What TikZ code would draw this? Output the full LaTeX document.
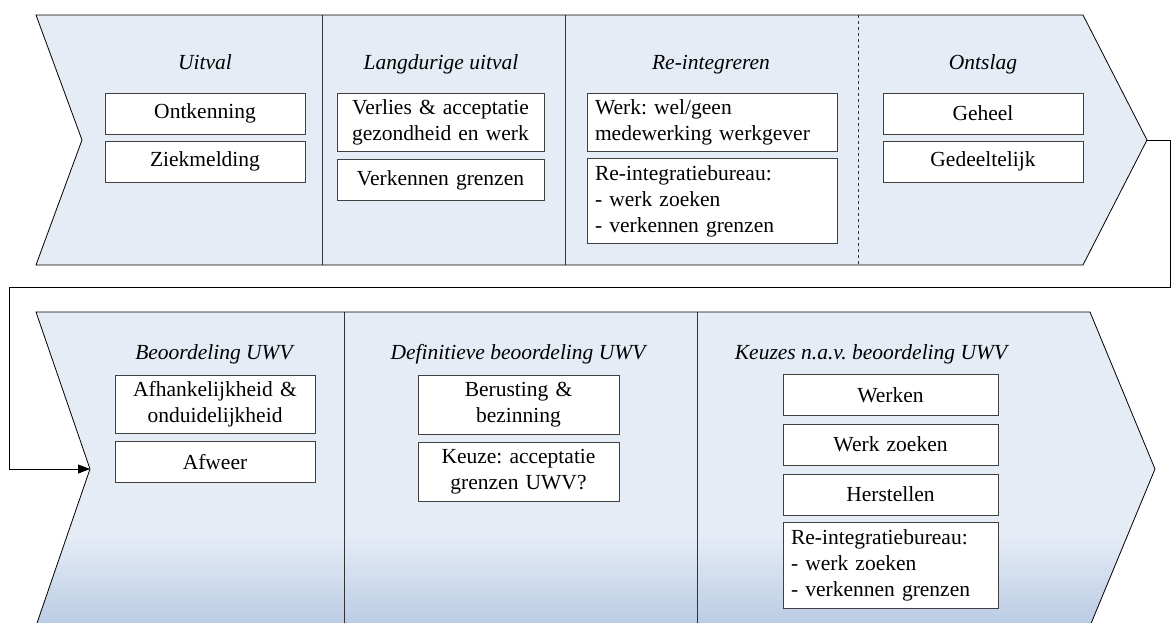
\documentclass[tikz,border=0pt]{standalone}
\usepackage{fontspec}
\setmainfont{Liberation Serif}
\usetikzlibrary{arrows.meta}
\frenchspacing
\definecolor{chevfill}{RGB}{229,236,246}
\definecolor{chevdark}{RGB}{186,203,228}
\newcommand{\diagfont}{\fontsize{21.5}{26}\selectfont}
\tikzset{
  box/.style={draw=black!75, fill=white, line width=0.9pt, align=center,
    inner xsep=2pt, inner ysep=2pt, minimum height=41pt},
  lbox/.style={box, align=left, inner xsep=8pt},
  fase/.style={font=\diagfont\itshape, anchor=base},
  rand/.style={draw=black, line width=0.8pt},
  scheid/.style={black!80, line width=0.8pt},
}
\begin{document}
\begin{tikzpicture}[x=1pt, y=-1pt, font=\diagfont]
  \useasboundingbox (0,0) rectangle (1171,622);
  % bovenste pijl
  \fill[chevfill] (36,15) -- (1083,15) -- (1147,140) -- (1083,265) -- (36,265) -- (82,140) -- cycle;
  \draw[scheid] (322,15) -- (322,265);
  \draw[scheid] (565,15) -- (565,265);
  \draw[scheid, dashed] (858,15) -- (858,265);
  \draw[rand] (36,15) -- (1083,15) -- (1147,140) -- (1083,265) -- (36,265) -- (82,140) -- cycle;
  \coordinate (tipA) at (1147,140);
  % onderste pijl, met verloop onderaan
  \begin{scope}
    \clip (36,312) -- (1090,312) -- (1155,469) -- (1090,626) -- (36,626) -- (90,469) -- cycle;
    \fill[chevfill] (0,300) rectangle (1171,630);
    \shade[top color=chevfill, bottom color=chevdark] (0,535) rectangle (1171,626);
  \end{scope}
  \draw[scheid] (344,312) -- (344,626);
  \draw[scheid] (697,312) -- (697,626);
  \draw[rand] (36,312) -- (1090,312) -- (1155,469) -- (1090,626) -- (36,626) -- (90,469) -- cycle;
  \coordinate (notchB) at (90,469);
  % verbinding tussen de twee pijlen
  \coordinate (hoekR) at (1170,287);
  \coordinate (hoekL) at (9,287);
  \draw[line width=0.8pt, -{Triangle[length=12pt, width=9pt]}] (tipA) -| (hoekR) -- (hoekL) |- (notchB);
  % fasen boven
  \node[fase] (uitval) at (205,69) {Uitval};
  \node[fase] (langd) at (441,69) {Langdurige uitval};
  \node[fase] (reint) at (711,69) {Re-integreren};
  \node[fase] (ontsl) at (983,69) {Ontslag};
  \node[box, text width=196pt] (ontk) at (205,113.5) {Ontkenning};
  \node[box, text width=196pt] (ziek) at (205,161.5) {Ziekmelding};
  \node[box, text width=203pt, minimum height=58pt] (verlies) at (440.5,122) {Verlies \& acceptatie\\gezondheid en werk};
  \node[box, text width=203pt] (verk) at (440.5,180) {Verkennen grenzen};
  \node[lbox, text width=234pt, minimum height=58pt] (werk) at (712,122) {Werk: wel/geen\\medewerking werkgever};
  \node[lbox, text width=234pt, minimum height=85pt] (rib) at (712,201) {Re-integratiebureau:\\- werk zoeken\\- verkennen grenzen};
  \node[box, text width=196pt] (geheel) at (983,113.5) {Geheel};
  \node[box, text width=196pt] (gedeel) at (983,161.5) {Gedeeltelijk};
  % fasen onder
  \node[fase] (beoord) at (214,359) {Beoordeling UWV};
  \node[fase] (defin) at (518,359) {Definitieve beoordeling UWV};
  \node[fase] (keuzes) at (871,359) {Keuzes n.a.v. beoordeling UWV};
  \node[box, text width=196pt, minimum height=58pt] (afh) at (215,404) {Afhankelijkheid \&\\onduidelijkheid};
  \node[box, text width=196pt] (afweer) at (215,462) {Afweer};
  \node[box, text width=197pt, minimum height=59pt] (berust) at (518.5,404.5) {Berusting \&\\bezinning};
  \node[box, text width=197pt, minimum height=59pt] (keuze) at (518.5,471.5) {Keuze: acceptatie\\grenzen UWV?};
  \node[box, text width=211pt] (werken) at (890.5,395) {Werken};
  \node[box, text width=211pt] (werkz) at (890.5,444.5) {Werk zoeken};
  \node[box, text width=211pt] (herst) at (890.5,494.5) {Herstellen};
  \node[lbox, text width=199pt, minimum height=86pt] (rib2) at (890.5,565) {Re-integratiebureau:\\- werk zoeken\\- verkennen grenzen};
\end{tikzpicture}
\end{document}
